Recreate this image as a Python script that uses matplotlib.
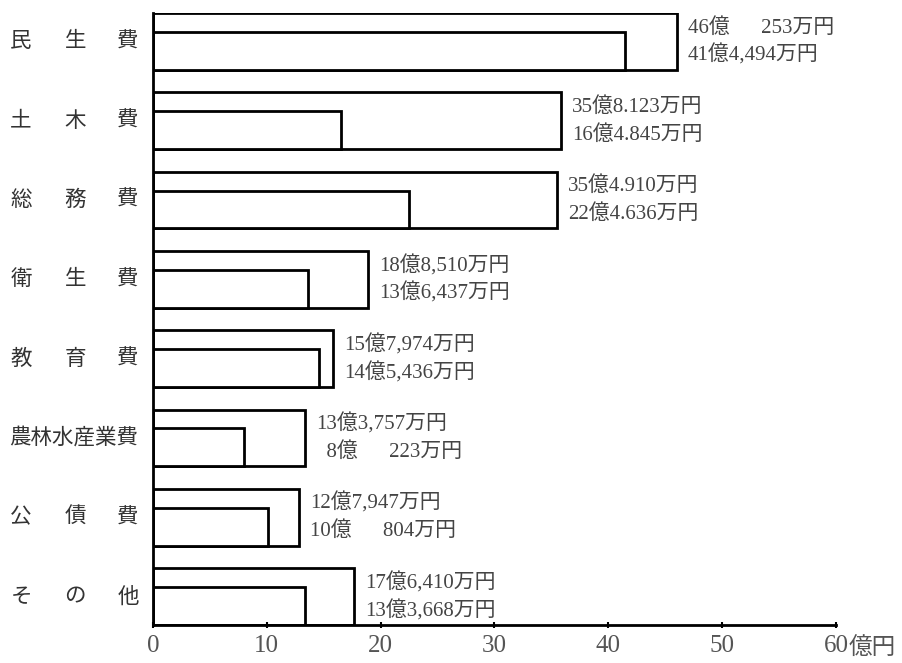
import matplotlib
matplotlib.use("Agg")
import matplotlib.pyplot as plt
import numpy as np

plt.rcParams['font.family'] = ['Liberation Serif', 'Noto Sans CJK JP', 'DejaVu Sans']

categories = ['民生費', '土木費', '総務費', '衛生費', '教育費', '農林水産業費', '公債費', 'その他']
# 億円
budget = [46.0253, 35.8123, 35.4910, 18.8510, 15.7974, 13.3757, 12.7947, 17.6410]
actual = [41.4494, 16.4845, 22.4636, 13.6437, 14.5436, 8.0223, 10.0804, 13.3668]
budget_labels = ['46億　  253万円', '35億8.123万円', '35億4.910万円', '18億8,510万円',
                 '15億7,974万円', '13億3,757万円', '12億7,947万円', '17億6,410万円']
actual_labels = ['41億4,494万円', '16億4.845万円', '22億4.636万円', '13億6,437万円',
                 '14億5,436万円', '  8億　  223万円', '10億　  804万円', '13億3,668万円']
xticks = [0, 10, 20, 30, 40, 50, 60]

n = len(categories)
y = np.arange(n)[::-1]
outer_h = 0.717
inner_h = 0.478

fig = plt.figure(figsize=(9.02, 6.63), dpi=100)
ax = fig.add_axes([153 / 902, 38 / 663, (836 - 153) / 902, (625 - 13) / 663])

ax.barh(y, budget, height=outer_h, align='edge', color='white', edgecolor='black', linewidth=2)
ax.barh(y, actual, height=inner_h, align='edge', color='white', edgecolor='black', linewidth=2)

for i in range(n):
    yc = y[i] + outer_h / 2
    ax.annotate(budget_labels[i], xy=(budget[i], yc), xytext=(8, 10), textcoords='offset points',
                ha='left', va='center', fontsize=15, color='#444444')
    ax.annotate(actual_labels[i], xy=(budget[i], yc), xytext=(8, -10), textcoords='offset points',
                ha='left', va='center', fontsize=15, color='#444444')
    name = categories[i]
    if len(name) == 3:
        for ch, dx in zip(name, [-95, -56, -18]):
            ax.annotate(ch, xy=(0, yc), xytext=(dx, 0),
                        textcoords='offset points', ha='center', va='center',
                        fontsize=15.5, family='Noto Sans CJK JP', color='#333333')
    else:
        ax.annotate(name, xy=(0, yc), xytext=(-11, 0), textcoords='offset points',
                    ha='right', va='center', fontsize=15.5, family='Noto Sans CJK JP', color='#333333')

ax.set_xlim(0, 60)
ax.set_ylim(0, n - 1 + outer_h)
ax.set_xticks(xticks)
ax.set_xticklabels([str(t) for t in xticks])
ax.set_yticks([])
ax.tick_params(axis='x', direction='inout', length=5, width=1.5, labelsize=18,
               labelcolor='#555555', pad=5)
ax.annotate('億円', xy=(60, 0), xycoords='data', xytext=(9, -9), textcoords='offset points',
            ha='left', va='top', fontsize=17, color='#555555', annotation_clip=False)
for s in ['top', 'right']:
    ax.spines[s].set_visible(False)
ax.spines['left'].set_linewidth(2)
ax.spines['bottom'].set_linewidth(2)

plt.savefig("out.png", dpi=100)
plt.close()
